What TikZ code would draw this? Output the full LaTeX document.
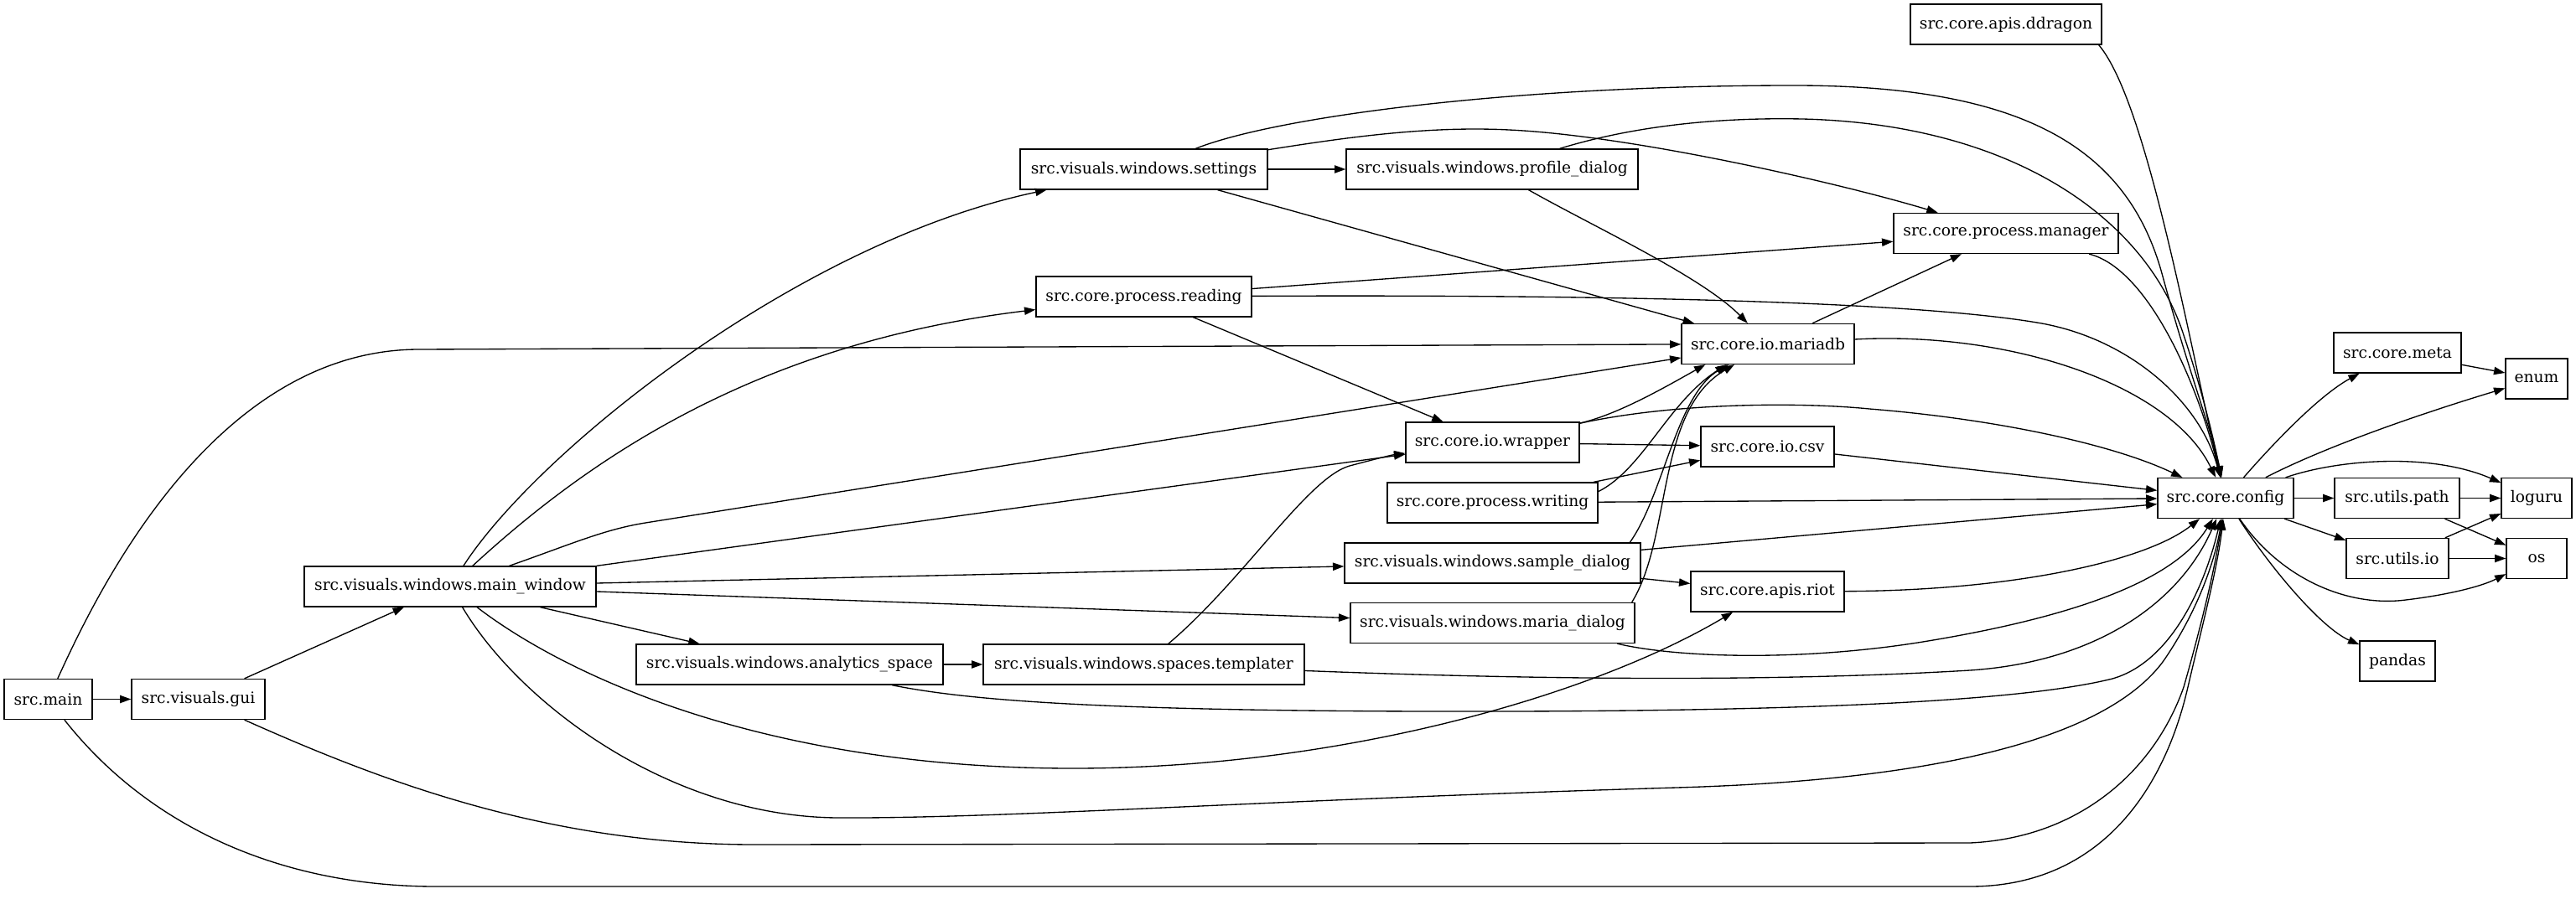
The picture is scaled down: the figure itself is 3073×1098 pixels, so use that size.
\documentclass[tikz,border=0pt]{standalone}
\usepackage{fontspec}
\setmainfont{DejaVu Serif}
\usetikzlibrary{arrows.meta}
\begin{document}
\begin{tikzpicture}[x=0.75pt,y=-0.75pt,
  mod/.style={draw, line width=1pt, minimum height=36pt, minimum width=#1*0.75pt,
    inner sep=0pt, font=\fontsize{14pt}{16pt}\selectfont},
  e/.style={line width=1pt, -{Triangle[length=10pt,width=7pt]}}]
\useasboundingbox (0,0) rectangle (3073,1098);
% nodes
\node[mod=105] (main) at (57.5,834.5) {src.main};
\node[mod=159] (gui) at (236.5,834.5) {src.visuals.gui};
\node[mod=348] (mw) at (537,700) {src.visuals.windows.main\_window};
\node[mod=295] (settings) at (1364.5,202) {src.visuals.windows.settings};
\node[mod=257] (reading) at (1364.5,354) {src.core.process.reading};
\node[mod=366] (analytics) at (942,793) {src.visuals.windows.analytics\_space};
\node[mod=383] (templater) at (1364.5,793) {src.visuals.windows.spaces.templater};
\node[mod=348] (profile) at (1780,202) {src.visuals.windows.profile\_dialog};
\node[mod=207] (wrapper) at (1780.5,528) {src.core.io.wrapper};
\node[mod=251] (writing) at (1780.5,600) {src.core.process.writing};
\node[mod=353] (sample) at (1780.5,672) {src.visuals.windows.sample\_dialog};
\node[mod=339] (maria) at (1780.5,743.5) {src.visuals.windows.maria\_dialog};
\node[mod=228] (ddragon) at (2393,29) {src.core.apis.ddragon};
\node[mod=268] (manager) at (2393,278.5) {src.core.process.manager};
\node[mod=206] (mariadb) at (2109,410.5) {src.core.io.mariadb};
\node[mod=159] (csv) at (2108.5,533) {src.core.io.csv};
\node[mod=183] (riot) at (2108.5,706) {src.core.apis.riot};
\node[mod=162] (config) at (2655,594.5) {src.core.config};
\node[mod=152] (meta) at (2860,421) {src.core.meta};
\node[mod=74] (enum) at (3026,452) {enum};
\node[mod=149] (upath) at (2859.5,594.5) {src.utils.path};
\node[mod=84] (loguru) at (3026,594.5) {loguru};
\node[mod=122] (uio) at (2860,666.5) {src.utils.io};
\node[mod=72] (os) at (3026,666.5) {os};
\node[mod=90] (pandas) at (2860,789) {pandas};
% edges from src.main
\draw[e] (main) -- (gui);
\draw[e] (main) .. controls (110,720) and (250,417) .. (500,417) -- (mariadb);
\draw[e] (main) .. controls (180,990) and (340,1058) .. (520,1058) -- (2350,1058)
  .. controls (2500,1058) and (2580,950) .. (2610,820)
  .. controls (2625,755) and (2645,680) .. (config);
% src.visuals.gui
\draw[e] (gui) -- (mw);
\draw[e] (gui) .. controls (450,930) and (650,1008) .. (900,1008) -- (2350,1006)
  .. controls (2480,1000) and (2570,920) .. (2605,820)
  .. controls (2625,750) and (2642,680) .. (config);
% main_window
\draw[e] (mw) .. controls (640,540) and (950,290) .. (settings);
\draw[e] (mw) .. controls (700,550) and (900,410) .. (reading);
\draw[e] (mw) .. controls (680,650) and (720,632) .. (770,624) -- (mariadb);
\draw[e] (mw.north east) -- (wrapper);
\draw[e] ([yshift=3pt]mw.east) -- (sample);
\draw[e] ([yshift=-4.5pt]mw.east) -- (maria);
\draw[e] (mw) -- (analytics);
\draw[e] (mw) .. controls (667,800) and (900,917) .. (1280,917)
  .. controls (1600,917) and (1900,830) .. (riot);
\draw[e] (mw) .. controls (620,840) and (800,975) .. (1000,976)
  .. controls (1200,977) and (1500,955) .. (2000,940)
  .. controls (2350,930) and (2520,870) .. (2580,790)
  .. controls (2615,740) and (2640,680) .. (config);
% settings
\draw[e] (settings) -- (profile);
\draw[e] (settings) -- (mariadb);
\draw[e] (settings) .. controls (1520,140) and (1800,102) .. (2140,102)
  .. controls (2420,102) and (2540,180) .. (2580,330)
  .. controls (2610,440) and (2640,520) .. (config);
\draw[e] (settings) .. controls (1600,165) and (1700,150) .. (1800,155)
  .. controls (1950,162) and (2200,220) .. (manager);
% profile
\draw[e] (profile) .. controls (1950,150) and (2050,140) .. (2150,142)
  .. controls (2400,148) and (2560,260) .. (2605,400)
  .. controls (2625,460) and (2640,520) .. (config);
\draw[e] (profile) .. controls (1900,270) and (2030,330) .. (mariadb);
% reading
\draw[e] (reading) -- (manager);
\draw[e] (reading) .. controls (1800,352) and (2250,355) .. (2430,385)
  .. controls (2540,403) and (2625,480) .. (config);
\draw[e] (reading) -- (wrapper);
% mariadb, manager, ddragon
\draw[e] (mariadb) -- (manager);
\draw[e] (mariadb) .. controls (2400,395) and (2590,460) .. (config);
\draw[e] (manager) .. controls (2560,320) and (2620,450) .. (config);
\draw[e] ([xshift=-3pt]ddragon.south east) .. controls (2560,120) and (2610,400) .. (config);
% wrapper
\draw[e] (wrapper) .. controls (1930,495) and (1990,460) .. ([xshift=-56pt]mariadb.south);
\draw[e] (wrapper) -- (csv);
\draw[e] (wrapper) .. controls (2000,480) and (2150,480) .. (2230,488)
  .. controls (2380,500) and (2520,530) .. (config);
% csv, writing
\draw[e] (csv) -- (config);
\draw[e] (writing) -- (csv);
\draw[e] ([yshift=10pt]writing.east) .. controls (1960,560) and (1990,480) .. ([xshift=-37pt]mariadb.south);
\draw[e] (writing) -- (config);
% sample dialog
\draw[e] ([xshift=-10pt]sample.north east) .. controls (1985,590) and (2000,470) .. ([xshift=-35pt]mariadb.south);
\draw[e] (sample) -- (config);
\draw[e] (sample) -- (riot);
% maria dialog
\draw[e] ([xshift=-3pt]maria.north east) .. controls (1995,640) and (1975,490) .. ([xshift=-30pt]mariadb.south);
\draw[e] ([xshift=-16pt]maria.south east) .. controls (2000,785) and (2150,790) .. (2300,765)
  .. controls (2450,740) and (2590,700) .. (config);
% riot
\draw[e] (riot) .. controls (2400,705) and (2560,670) .. (config);
% analytics, templater
\draw[e] (analytics) -- (templater);
\draw[e] (analytics) .. controls (1150,835) and (1300,848) .. (1700,849)
  .. controls (2100,850) and (2400,840) .. (2520,810)
  .. controls (2590,790) and (2630,700) .. (config);
\draw[e] (templater) .. controls (1483,693) and (1560,570) .. (1610,556)
  .. controls (1640,548) and (1660,543) .. (wrapper);
\draw[e] (templater) .. controls (1800,810) and (2100,815) .. (2350,800)
  .. controls (2500,790) and (2600,720) .. (config);
% config outgoing
\draw[e] (config) .. controls (2720,520) and (2770,470) .. (meta);
\draw[e] (config) .. controls (2780,530) and (2900,490) .. (enum);
\draw[e] (config) .. controls (2790,548) and (2900,540) .. (loguru);
\draw[e] (config) -- (upath);
\draw[e] (config) -- (uio);
\draw[e] (config) .. controls (2720,690) and (2800,725) .. (2870,716)
  .. controls (2920,710) and (2960,700) .. (os);
\draw[e] (config) .. controls (2710,680) and (2770,750) .. (pandas);
% leaves
\draw[e] (meta) -- (enum);
\draw[e] (upath) -- (loguru);
\draw[e] (upath) -- (os);
\draw[e] (uio) -- (loguru);
\draw[e] (uio) -- (os);
\end{tikzpicture}
\end{document}
